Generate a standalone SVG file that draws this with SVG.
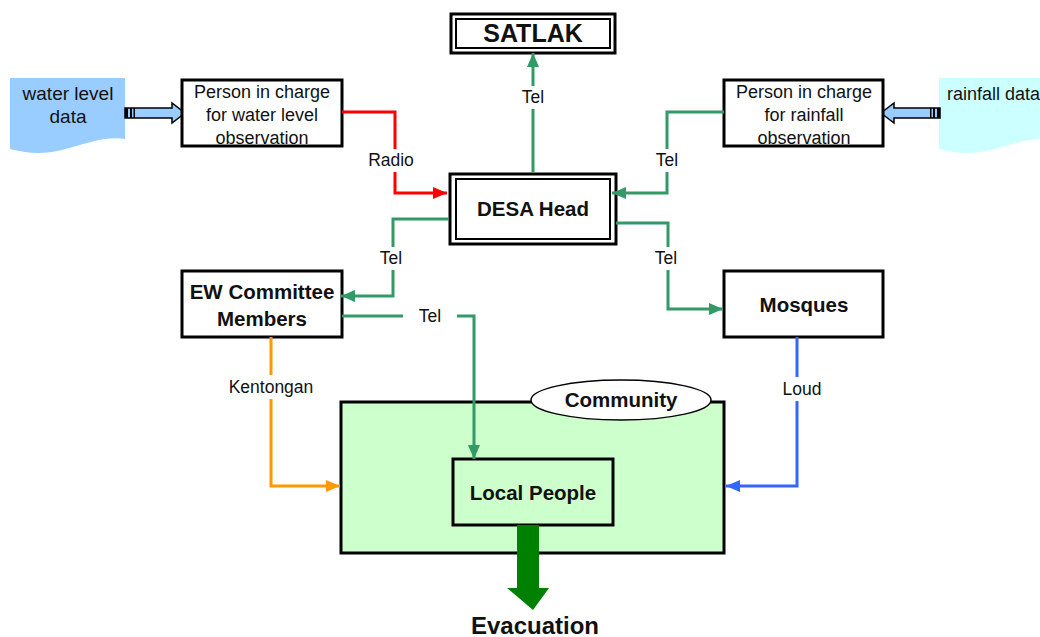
<svg xmlns="http://www.w3.org/2000/svg" width="1040" height="637" viewBox="0 0 1040 637">
<style>
.box{fill:#fff;stroke:#000;stroke-width:3}
.inner{fill:none;stroke:#000;stroke-width:2}
.t{font-family:"Liberation Sans",Arial,sans-serif;font-size:18px;fill:#111;text-anchor:middle}
.d{font-family:"Liberation Sans",Arial,sans-serif;font-size:19px;fill:#111;text-anchor:middle}
.b{font-family:"Liberation Sans",Arial,sans-serif;font-size:20.5px;font-weight:bold;fill:#111;text-anchor:middle}
.lbl{font-family:"Liberation Sans",Arial,sans-serif;font-size:17.5px;fill:#111;text-anchor:middle}
.c{fill:none;stroke-width:3}
.g{stroke:#339966}
.r{stroke:#ff0000}
.o{stroke:#ff9900}
.bl{stroke:#3366ff}
.bg{fill:#fff}
</style>
<defs>
<marker id="mg" markerUnits="userSpaceOnUse" markerWidth="14" markerHeight="12" refX="14" refY="6" orient="auto"><path d="M0,0 L14,6 L0,12 z" fill="#339966"/></marker>
<marker id="mr" markerUnits="userSpaceOnUse" markerWidth="14" markerHeight="12" refX="14" refY="6" orient="auto"><path d="M0,0 L14,6 L0,12 z" fill="#ff0000"/></marker>
<marker id="mo" markerUnits="userSpaceOnUse" markerWidth="14" markerHeight="12" refX="14" refY="6" orient="auto"><path d="M0,0 L14,6 L0,12 z" fill="#ff9900"/></marker>
<marker id="mb" markerUnits="userSpaceOnUse" markerWidth="14" markerHeight="12" refX="14" refY="6" orient="auto"><path d="M0,0 L14,6 L0,12 z" fill="#3366ff"/></marker>
</defs>

<g id="community">
<rect x="341" y="402" width="383" height="151" fill="#ccffcc" stroke="#000" stroke-width="3"/>
<ellipse cx="621" cy="400" rx="90" ry="20" fill="#fff" stroke="#000" stroke-width="1.5"/>
<text class="b" x="621" y="407">Community</text>
</g>

<g id="water-data">
<path d="M10,78 H125 V139 C105,136 85,144 62,150 C42,155 25,153 10,149 Z" fill="#99ccff"/>
<text class="d" x="68" y="100">water level</text>
<text class="d" x="68" y="123">data</text>
</g>
<g id="water-arrow">
<path d="M125,108 H172 V103 L185,113 L172,123 V118 H125 Z" fill="#99ccff" stroke="#000" stroke-width="1.5"/>
<rect x="125" y="108" width="3" height="10" fill="#000"/>
<rect x="130" y="108" width="2" height="10" fill="#000"/>
<rect x="133.5" y="108" width="1.5" height="10" fill="#000"/>
</g>

<g id="rain-data">
<path d="M939,78 H1054 V139 C1034,136 1014,144 991,150 C971,155 954,153 939,149 Z" fill="#ccffff"/>
<text class="d" x="947" y="100" style="text-anchor:start;font-size:18px">rainfall data</text>
</g>
<g id="rain-arrow">
<path d="M940,108 H894 V103 L881,113 L894,123 V118 H940 Z" fill="#99ccff" stroke="#000" stroke-width="1.5"/>
<rect x="937" y="108" width="3" height="10" fill="#000"/>
<rect x="933" y="108" width="2" height="10" fill="#000"/>
<rect x="930" y="108" width="1.5" height="10" fill="#000"/>
</g>

<g id="water-person">
<rect class="box" x="182" y="80" width="160" height="66"/>
<text class="t" x="262" y="98">Person in charge</text>
<text class="t" x="262" y="121">for water level</text>
<text class="t" x="262" y="144">observation</text>
</g>

<g id="rain-person">
<rect class="box" x="724" y="80" width="159" height="66"/>
<text class="t" x="804" y="98">Person in charge</text>
<text class="t" x="804" y="121">for rainfall</text>
<text class="t" x="804" y="144">observation</text>
</g>

<g id="satlak">
<rect class="box" x="451" y="14" width="164" height="39"/>
<rect class="inner" x="456" y="19" width="154" height="29"/>
<text class="b" x="533" y="42" style="font-size:25px">SATLAK</text>
</g>

<g id="desa">
<rect class="box" x="450" y="174" width="166" height="70"/>
<rect class="inner" x="456" y="179" width="154" height="60"/>
<text class="b" x="533" y="216">DESA Head</text>
</g>

<g id="ew">
<rect class="box" x="182" y="271" width="160" height="66"/>
<text class="b" x="262" y="299">EW Committee</text>
<text class="b" x="262" y="326">Members</text>
</g>

<g id="mosques">
<rect class="box" x="724" y="271" width="159" height="66"/>
<text class="b" x="804" y="312">Mosques</text>
</g>

<g id="local">
<rect x="453" y="459" width="160" height="66" fill="#ccffcc" stroke="#000" stroke-width="3"/>
<text class="b" x="533" y="500">Local People</text>
</g>

<g id="evacuation">
<path d="M517,525 H539 V588 H549 L533,610 L507,588 H517 Z" fill="#008000"/>
<text class="b" x="535" y="634" style="font-size:24px">Evacuation</text>
</g>

<g id="connectors">
<path class="c r" d="M342,112 H395 V193 H447" marker-end="url(#mr)"/>
<rect class="bg" x="365" y="149" width="58" height="23"/>
<text class="lbl" x="391" y="166">Radio</text>

<path class="c g" d="M533,173 V53" marker-end="url(#mg)"/>
<rect class="bg" x="515" y="86" width="36" height="23"/>
<text class="lbl" x="533" y="103">Tel</text>

<path class="c g" d="M724,112 H667 V193 H612" marker-end="url(#mg)"/>
<rect class="bg" x="649" y="149" width="36" height="23"/>
<text class="lbl" x="667" y="166">Tel</text>

<path class="c g" d="M449,219 H393 V296 H341" marker-end="url(#mg)"/>
<rect class="bg" x="374" y="247" width="36" height="23"/>
<text class="lbl" x="391" y="264">Tel</text>

<path class="c g" d="M616,223 H668 V309 H723" marker-end="url(#mg)"/>
<rect class="bg" x="649" y="247" width="36" height="23"/>
<text class="lbl" x="666" y="264">Tel</text>

<path class="c g" d="M342,316 H474 V459" marker-end="url(#mg)"/>
<rect class="bg" x="403" y="304" width="54" height="23"/>
<text class="lbl" x="430" y="322">Tel</text>

<path class="c o" d="M271,337 V486 H340" marker-end="url(#mo)"/>
<rect class="bg" x="222" y="375" width="98" height="24"/>
<text class="lbl" x="271" y="393">Kentongan</text>

<path class="c bl" d="M797,337 V486 H726" marker-end="url(#mb)"/>
<rect class="bg" x="778" y="377" width="48" height="24"/>
<text class="lbl" x="802" y="395">Loud</text>
</g>
</svg>
